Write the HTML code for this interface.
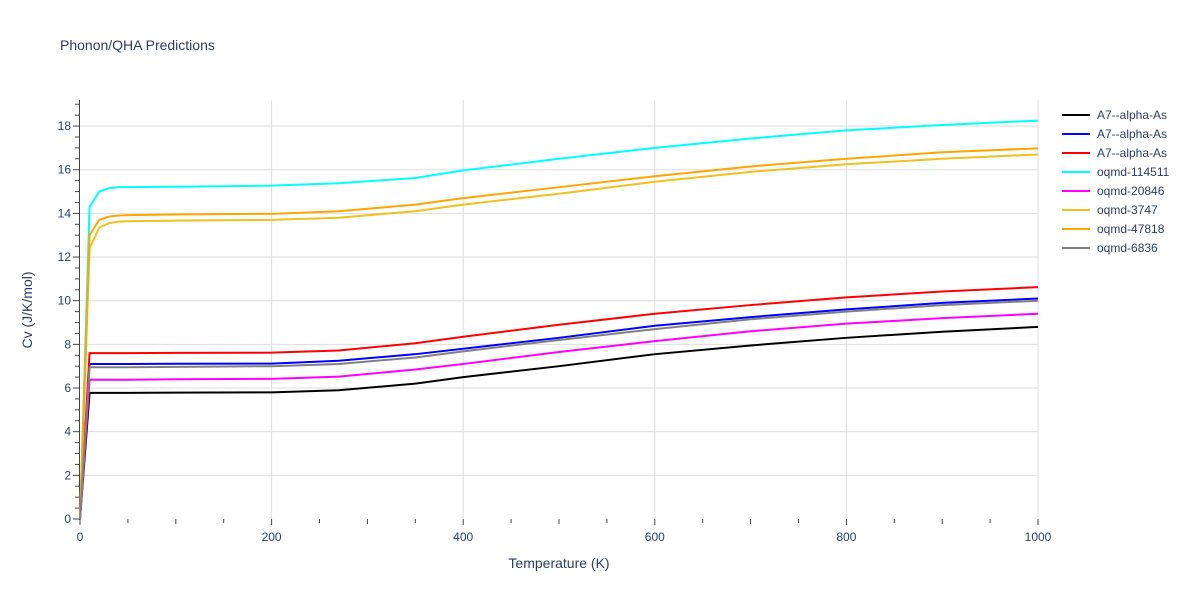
<!DOCTYPE html>
<html><head><meta charset="utf-8"><style>
body{margin:0;background:#fff;font-family:"Liberation Sans",sans-serif}
</style></head><body>
<svg id="c" width="1200" height="600" xmlns="http://www.w3.org/2000/svg" font-family="Liberation Sans, sans-serif">
<text x="60" y="50" font-size="14" fill="#2a3f5f">Phonon/QHA Predictions</text>
<g id="grid"></g><g id="axes"></g><g id="series"></g><g id="legend"></g>
<text x="559" y="568" font-size="14" fill="#2a3f5f" text-anchor="middle">Temperature (K)</text>
<text transform="translate(32,310) rotate(-90)" font-size="14" fill="#2a3f5f" text-anchor="middle">Cv (J/K/mol)</text>
</svg>
<script>
const temps=[0,10,20,30,40,50,100,200,270,350,400,500,600,700,800,900,1000];
const names=["A7--alpha-As","A7--alpha-As","A7--alpha-As","oqmd-114511","oqmd-20846","oqmd-3747","oqmd-47818","oqmd-6836"];
const colors=["#000000","#0000ff","#ff0000","#00ffff","#ff00ff","#f0c020","#ffa500","#808080"];
const sBlack=[0,5.78,5.78,5.78,5.78,5.78,5.79,5.8,5.9,6.2,6.5,7.0,7.55,7.95,8.3,8.58,8.8];
const sBlue=[0,7.1,7.1,7.1,7.1,7.1,7.11,7.12,7.25,7.55,7.8,8.3,8.85,9.25,9.6,9.9,10.1];
const sRed=[0,7.6,7.6,7.6,7.6,7.6,7.61,7.62,7.72,8.05,8.35,8.9,9.4,9.8,10.15,10.42,10.62];
const sCyan=[0,14.3,15.0,15.15,15.2,15.2,15.22,15.27,15.38,15.62,15.97,16.5,17.0,17.43,17.8,18.05,18.25];
const sMagenta=[0,6.38,6.38,6.38,6.38,6.38,6.4,6.42,6.52,6.85,7.1,7.65,8.15,8.6,8.95,9.2,9.4];
const sYellow=[0,12.4,13.35,13.55,13.62,13.64,13.67,13.7,13.8,14.1,14.4,14.9,15.45,15.9,16.25,16.5,16.7];
const sOrange=[0,13.0,13.7,13.85,13.9,13.92,13.95,13.98,14.1,14.4,14.7,15.2,15.7,16.15,16.5,16.8,16.98];
const sGray=[0,6.95,6.95,6.95,6.95,6.95,6.97,7.0,7.1,7.4,7.68,8.2,8.7,9.15,9.5,9.8,10.0];
const allSeries=[sBlack,sBlue,sRed,sCyan,sMagenta,sYellow,sOrange,sGray];
const xTicks=[0,200,400,600,800,1000];
const yTicks=[0,2,4,6,8,10,12,14,16,18];
const NS="http://www.w3.org/2000/svg";
const X=t=>80+t*0.958, Y=v=>519-v*21.83;
function mk(tag,attrs,parent){const e=document.createElementNS(NS,tag);for(const k in attrs)e.setAttribute(k,attrs[k]);document.getElementById(parent).appendChild(e);return e;}
xTicks.forEach(t=>{
 if(t>0){const g=mk('line',{x1:X(t),x2:X(t),y1:100,y2:519,stroke:'#ddd'},'grid');
 
 }
 const l=mk('text',{x:X(t),y:541,'font-size':12,fill:'#2a3f5f','text-anchor':'middle'},'axes');l.textContent=t;
 
 
});
for(let t=0;t<=1000;t+=50){const tk=mk('line',{x1:X(t),x2:X(t),y1:519,y2:t%200==0?525:(t%100==0?524:523),stroke:'#444'},'axes');
 
 }
yTicks.forEach(v=>{
 if(v>0){const g=mk('line',{x1:80,x2:1038,y1:Y(v),y2:Y(v),stroke:'#ddd'},'grid');
 
 }
 const l=mk('text',{x:71,y:Y(v)+4,'font-size':12,fill:'#2a3f5f','text-anchor':'end'},'axes');l.textContent=v;
 
 
});
for(let v=0;v<=19;v+=0.5){const tk=mk('line',{x1:v%2==0?73:75,x2:79,y1:Y(v),y2:Y(v),stroke:'#444'},'axes');
 
 }
const ax=mk('line',{x1:79.5,x2:79.5,y1:100,y2:520,stroke:'#444'},'axes');


allSeries.forEach((s,i)=>{
 const p=mk('polyline',{points:s.map((v,j)=>X(temps[j])+','+Y(v)).join(' '),fill:'none',stroke:colors[i],'stroke-width':2},'series');
 
 
 const ly=115+i*19;
 const ll=mk('line',{x1:1062,x2:1090,y1:ly,y2:ly,stroke:colors[i],'stroke-width':2},'legend');
 
 
 const lt=mk('text',{x:1097,y:ly+4,'font-size':12,fill:'#2a3f5f'},'legend');lt.textContent=names[i];
 
 
});
</script>
</body></html>
